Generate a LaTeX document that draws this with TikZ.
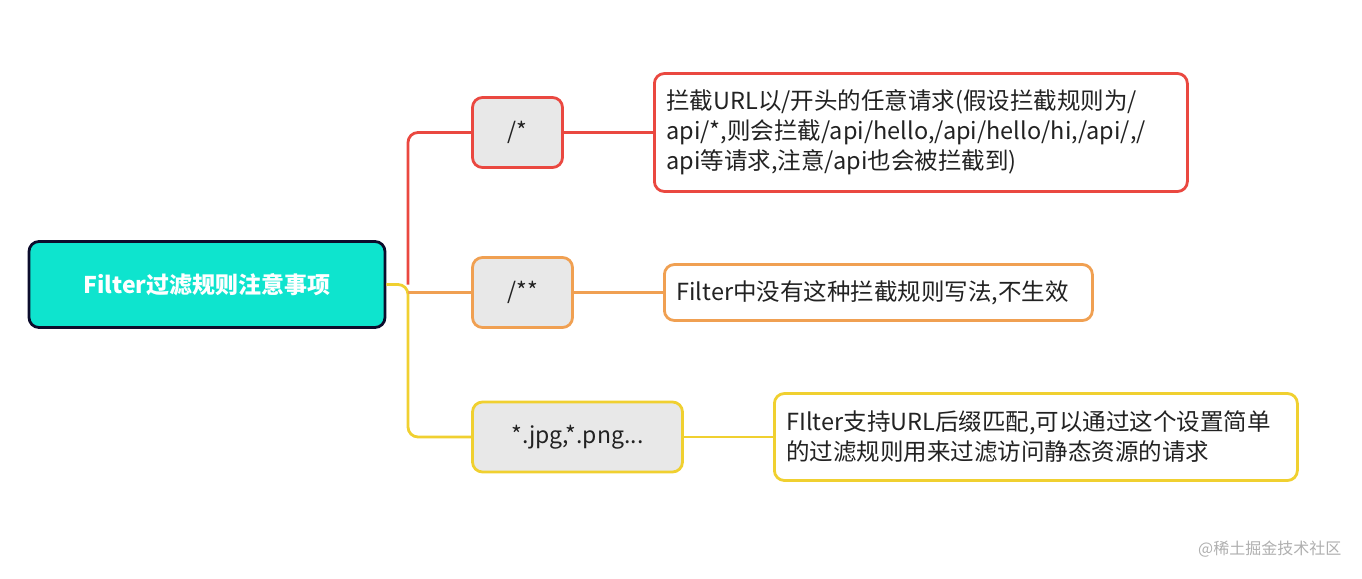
\documentclass[tikz,border=0pt]{standalone}
\usepackage{fontspec}
\setmainfont{Noto Sans CJK SC}
\usetikzlibrary{positioning}

\definecolor{rootfill}{RGB}{14,228,206}
\definecolor{rootdraw}{RGB}{12,12,44}
\definecolor{boxfill}{RGB}{232,232,232}
\definecolor{redline}{RGB}{234,72,64}
\definecolor{orangeline}{RGB}{240,160,82}
\definecolor{yellowline}{RGB}{240,208,48}
\definecolor{textgray}{RGB}{34,34,34}
\definecolor{markgray}{RGB}{175,175,175}

\begin{document}
\begin{tikzpicture}[x=1pt,y=-1pt,line width=2.8pt,
  root node/.style={rectangle,rounded corners=10pt,fill=rootfill,draw=rootdraw,
  text=white,font=\fontsize{23}{26}\selectfont\bfseries,
  minimum width=356pt,minimum height=86pt,inner sep=0pt},
  rule node/.style={rectangle,rounded corners=10pt,fill=boxfill,
  text=textgray,font=\fontsize{23}{26}\selectfont,
  minimum height=70pt,inner sep=0pt},
  note node/.style={rectangle,rounded corners=10pt,fill=white,
  text=textgray,font=\fontsize{23.5}{30}\selectfont,align=left,
  inner xsep=12pt,inner ysep=0pt,anchor=west}]

  \useasboundingbox (0,0) rectangle (1362,578);

  \node[root node] (root) at (207,284.5) {Filter过滤规则注意事项};
  \node[rule node,draw=redline,minimum width=90pt] (r1) at (517.5,132.5) {/*};
  \node[rule node,draw=orangeline,minimum width=100pt] (r2) at (522.5,292.5) {/**};
  \node[rule node,draw=yellowline,minimum width=210pt] (r3) at (577.5,437) {*.jpg,*.png...};

  \node[note node,draw=redline,text width=509pt,minimum height=118pt] (d1) at (653,132.5)
    {拦截URL以/开头的任意请求(假设拦截规则为/\\
     api/*,则会拦截/api/hello,/api/hello/hi,/api/,/\\
     api等请求,注意/api也会被拦截到)};
  \node[note node,draw=orangeline,text width=404pt,minimum height=56pt] (d2) at (663,292.5)
    {Filter中没有这种拦截规则写法,不生效};
  \node[note node,draw=yellowline,text width=499pt,minimum height=87pt] (d3) at (773,437)
    {FIlter支持URL后缀匹配,可以通过这个设置简单\\
     的过滤规则用来过滤访问静态资源的请求};

  \coordinate (fork) at (408,284.5);

  % branches from the root
  \draw[redline,rounded corners=10pt] (fork) |- (r1.west);
  \draw[yellowline,rounded corners=10pt] (root.east) -- (fork) |- (r3.west);
  \draw[orangeline] (fork |- r2.west) -- (r2.west);

  % rules to their notes
  \draw[redline] (r1.east) -- (d1.west);
  \draw[orangeline] (r2.east) -- (d2.west);
  \draw[yellowline] (r3.east) -- (d3.west);

  \node[text=markgray,font=\fontsize{16}{18}\selectfont,anchor=east] (mark) at (1346,549) {@稀土掘金技术社区};

\end{tikzpicture}
\end{document}
